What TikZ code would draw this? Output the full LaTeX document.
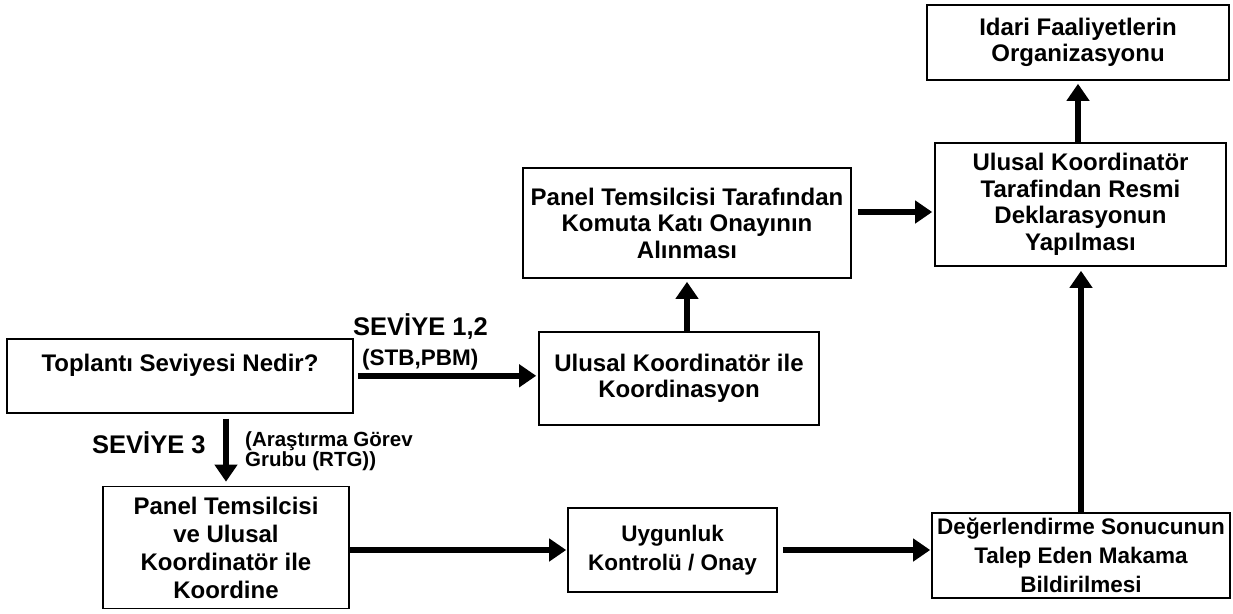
\documentclass[tikz,border=0pt]{standalone}
\usepackage{fontspec}
\setmainfont{Liberation Sans}
\usetikzlibrary{arrows.meta}
\begin{document}
\begin{tikzpicture}[x=1pt,y=-1pt,
  box/.style={draw, line width=1.6pt, inner sep=0pt, align=center,
    font=\bfseries\fontsize{24}{26.5}\selectfont},
  nbox/.style={box, font=\bfseries\fontsize{22.5}{29}\selectfont},
  arr/.style={line width=6pt, -{Triangle[length=17pt,width=22pt]}},
  lblbig/.style={inner sep=0pt, font=\bfseries\fontsize{25.5}{28}\selectfont},
  lblmid/.style={inner sep=0pt, font=\bfseries\fontsize{22.5}{24}\selectfont},
  lblsm/.style={inner sep=0pt, align=left, font=\bfseries\fontsize{20.5}{18.5}\selectfont}]
\useasboundingbox[fill=white] (0,0) rectangle (1233,613);

% boxes
\node[box, anchor=north, minimum width=346pt, text height=33pt, text depth=41pt] (top) at (180,338) {Toplantı Seviyesi Nedir?};
\node[box, minimum width=280pt, minimum height=93pt] (ulk) at (679,378.5) {Ulusal Koordinatör ile\\Koordinasyon};
\node[box, minimum width=328pt, minimum height=110pt] (ptk) at (687,223) {Panel Temsilcisi Tarafından\\Komuta Katı Onayının\\Alınması};
\node[box, minimum width=291pt, minimum height=123pt] (urd) at (1080.5,204.5) {Ulusal Koordinatör\\Tarafindan Resmi\\Deklarasyonun\\Yapılması};
\node[box, minimum width=302pt, minimum height=75pt] (idari) at (1078,42.5) {Idari Faaliyetlerin\\Organizasyonu};
\node[box, font=\bfseries\fontsize{24}{28}\selectfont, minimum width=246pt, minimum height=122pt] (pvu) at (226,547.5) {Panel Temsilcisi\\ve Ulusal\\Koordinatör ile\\Koordine};
\node[nbox, minimum width=209pt, minimum height=84pt] (uyg) at (672.5,550) {Uygunluk\\Kontrolü / Onay};
\node[nbox, minimum width=298pt, minimum height=85pt] (deg) at (1081,555.5) {Değerlendirme Sonucunun\\Talep Eden Makama\\Bildirilmesi};

% labels
\node[lblbig, anchor=base west] (s12) at (353,335) {SEVİYE 1,2};
\node[lblmid, anchor=base west] (stb) at (362,365) {(STB,PBM)};
\node[lblbig, anchor=base west] (s3) at (92,453) {SEVİYE~3};
\node[lblsm, anchor=west] (rtg) at (245,451) {(Araştırma Görev\\Grubu (RTG))};

% connectors
\draw[arr, shorten <=4pt, shorten >=2pt] (top.east) -- (top.east -| ulk.west);
\draw[arr, shorten >=3pt] (ulk.north -| ptk.south) -- (ptk.south);
\path ([yshift=11pt]ptk.east) coordinate (pe);
\draw[arr, shorten <=6pt, shorten >=2pt] (pe) -- (pe -| urd.west);
\draw[arr, shorten >=3pt] (urd.north -| idari.south) -- (idari.south);
\draw[arr, shorten >=4pt] (deg.north) -- (deg.north |- urd.south);
\draw[arr, shorten <=5pt, shorten >=4pt] (pvu.north |- top.south) -- (pvu.north);
\draw[arr, shorten >=1pt] (pvu.east |- uyg.west) -- (uyg.west);
\draw[arr, shorten <=5pt, shorten >=1pt] (uyg.east) -- (uyg.east -| deg.west);
\end{tikzpicture}
\end{document}
